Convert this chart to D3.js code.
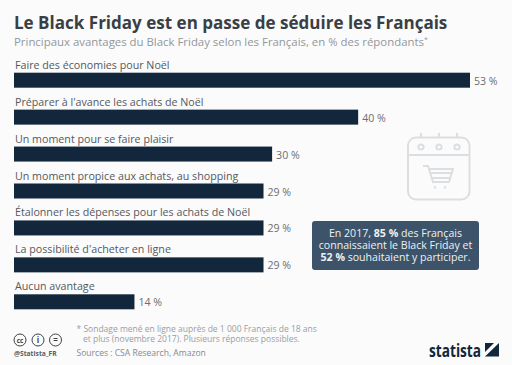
<!DOCTYPE html>
<html>
<head>
<meta charset="utf-8">
<script src="https://cdn.jsdelivr.net/npm/d3@7"></script>
<style>
  html, body { margin: 0; padding: 0; background: #fbfbfc; }
  svg { display: block; }
  text { font-family: "Open Sans", sans-serif; }
</style>
</head>
<body>
<svg id="chart" width="512" height="365"></svg>
<script>
const categories = [
  'Faire des économies pour Noël',
  "Préparer à l'avance les achats de Noël",
  'Un moment pour se faire plaisir',
  'Un moment propice aux achats, au shopping',
  'Étalonner les dépenses pour les achats de Noël',
  "La possibilité d'acheter en ligne",
  'Aucun avantage',
]
const values = [53, 40, 30, 29, 29, 29, 14]
const footnotes = [
  '* Sondage mené en ligne auprès de 1 000 Français de 18 ans',
  'et plus (novembre 2017). Plusieurs réponses possibles.',
]

const svg = d3.select('#chart')

svg.append('rect').attr('width', 512).attr('height', 365).attr('fill', '#fbfbfc')

svg.append('text')
  .attr('x', 14).attr('y', 28.5)
  .attr('font-size', 17.05).attr('font-weight', 700).attr('fill', '#3a3f44')
  .text('Le Black Friday est en passe de séduire les Français')

const sub = svg.append('text')
  .attr('x', 14).attr('y', 45.5)
  .attr('font-size', 11.4).attr('fill', '#92979b')
sub.append('tspan').text('Principaux avantages du Black Friday selon les Français, en % des répondants')
sub.append('tspan').attr('font-size', 7).attr('dy', -4).text('*')

const x = d3.scaleLinear().domain([0, 53]).range([14, 470])
const y = d3.scaleBand()
  .domain(categories)
  .range([72.7, 309.3])
  .paddingInner(0.594)
  .paddingOuter(0)

const rows = svg.selectAll('.row')
  .data(categories)
  .enter()
  .append('g')
  .attr('class', 'row')

rows.append('rect')
  .attr('x', x(0))
  .attr('y', (d) => y(d))
  .attr('width', (d, i) => x(values[i]) - x(0))
  .attr('height', y.bandwidth())
  .attr('fill', '#12273b')

rows.append('text')
  .attr('x', 15)
  .attr('y', (d) => y(d) - 4)
  .attr('font-size', 10.7)
  .attr('fill', '#55595d')
  .text((d) => d)

rows.append('text')
  .attr('x', (d, i) => x(values[i]) + 4)
  .attr('y', (d) => y(d) + 12)
  .attr('font-size', 10.6)
  .attr('fill', '#6a6e72')
  .text((d, i) => `${values[i]} %`)

// calendar + cart icon
const icon = svg.append('g')
  .attr('fill', 'none')
  .attr('stroke', '#dcdfe2')
  .attr('stroke-width', 2)
icon.append('rect').attr('x', 408).attr('y', 137.5).attr('width', 61.5).attr('height', 62).attr('rx', 8)
icon.append('line').attr('x1', 408).attr('x2', 470).attr('y1', 155).attr('y2', 155)
;[421, 439, 457].forEach((cx) => {
  icon.append('circle').attr('cx', cx).attr('cy', 147).attr('r', 2.6)
  icon.append('line').attr('x1', cx).attr('x2', cx).attr('y1', 133).attr('y2', 137)
})
icon.append('path').attr('d', 'M423 166h5l5 16h16l4-13h-24M430 173h22M432 178h19')
icon.append('circle').attr('cx', 435).attr('cy', 187.5).attr('r', 0.4)
icon.append('circle').attr('cx', 445).attr('cy', 187.5).attr('r', 0.4)

// callout box
svg.append('rect')
  .attr('x', 312).attr('y', 221).attr('width', 167).attr('height', 49).attr('rx', 3)
  .attr('fill', '#3c5369')

const box = svg.append('text')
  .attr('text-anchor', 'middle')
  .attr('font-size', 10.6)
  .attr('fill', '#eef1f3')
const l1 = box.append('tspan').attr('x', 395.5).attr('y', 237)
l1.append('tspan').text('En 2017, ')
l1.append('tspan').attr('font-weight', 700).text('85 %')
l1.append('tspan').text(' des Français')
box.append('tspan').attr('x', 395.5).attr('y', 249).text('connaissaient le Black Friday et')
const l3 = box.append('tspan').attr('x', 395.5).attr('y', 261)
l3.append('tspan').attr('font-weight', 700).text('52 %')
l3.append('tspan').text(' souhaitaient y participer.')

// footnotes
svg.append('text')
  .attr('x', 76.5).attr('y', 332)
  .attr('font-size', 8.5).attr('fill', '#9a9ea2')
  .text(footnotes[0])
svg.append('text')
  .attr('x', 83).attr('y', 342)
  .attr('font-size', 8.5).attr('fill', '#9a9ea2')
  .text(footnotes[1])
svg.append('text')
  .attr('x', 76.5).attr('y', 356)
  .attr('font-size', 8.55).attr('fill', '#85898d')
  .text('Sources : CSA Research, Amazon')

// creative commons badges
const badges = svg.append('g').attr('fill', 'none').attr('stroke', '#3f4347').attr('stroke-width', 1)
;[['cc', 20], ['i', 38], ['=', 55.5]].forEach(([label, cx]) => {
  badges.append('circle').attr('cx', cx).attr('cy', 340).attr('r', 6)
  badges.append('text')
    .attr('x', cx).attr('y', 342.5)
    .attr('text-anchor', 'middle')
    .attr('font-size', label === 'cc' ? 6.5 : 8)
    .attr('font-weight', 700)
    .attr('fill', '#3f4347').attr('stroke', 'none')
    .text(label)
})
svg.append('text')
  .attr('x', 14).attr('y', 356)
  .attr('font-size', 6.7).attr('font-weight', 700).attr('fill', '#5a5e62')
  .text('@Statista_FR')

// statista logo
svg.append('text')
  .attr('x', 429).attr('y', 356.5)
  .attr('font-size', 18).attr('font-weight', 700).attr('fill', '#12273b')
  .attr('textLength', 52)
  .attr('lengthAdjust', 'spacingAndGlyphs')
  .text('statista')
svg.append('rect').attr('x', 485).attr('y', 343).attr('width', 14).attr('height', 13.5).attr('fill', '#12273b')
svg.append('path').attr('d', 'M485 352L494 343H499L485 356.5Z').attr('fill', '#fbfbfc')
</script>
</body>
</html>
